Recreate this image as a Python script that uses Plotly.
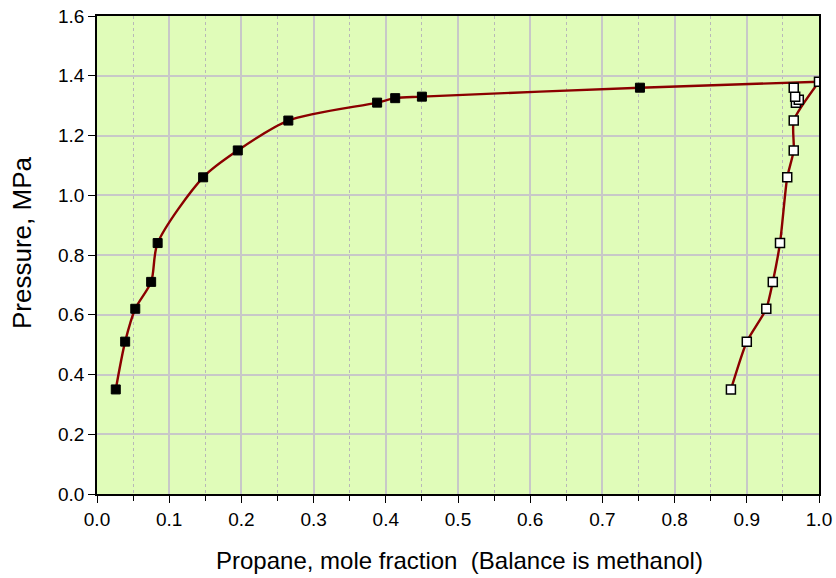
import plotly.graph_objects as go

# Liquid (filled squares)
liq_x = [0.026, 0.039, 0.053, 0.075, 0.084, 0.147, 0.195, 0.265, 0.388, 0.413, 0.450, 0.752]
liq_p = [0.35, 0.51, 0.62, 0.71, 0.84, 1.06, 1.15, 1.25, 1.31, 1.325, 1.33, 1.36]
# Vapor (open squares)
vap_x = [0.878, 0.900, 0.927, 0.936, 0.946, 0.956, 0.965, 0.965, 0.968, 0.972, 0.967, 0.965]
vap_p = [0.35, 0.51, 0.62, 0.71, 0.84, 1.06, 1.15, 1.25, 1.31, 1.32, 1.33, 1.36]
# Pure propane
pure_x = [1.0]
pure_p = [1.38]

x_title = "Propane, mole fraction  (Balance is methanol)"
y_title = "Pressure, MPa"

line_col = "#8b0000"
fig = go.Figure()
fig.add_trace(go.Scatter(x=liq_x + pure_x, y=liq_p + pure_p, mode="lines",
                         line=dict(color=line_col, width=2.4, shape="spline", smoothing=0.8),
                         hoverinfo="skip"))
fig.add_trace(go.Scatter(x=vap_x[:8] + pure_x, y=vap_p[:8] + pure_p, mode="lines",
                         line=dict(color=line_col, width=2.4, shape="spline", smoothing=0.6),
                         hoverinfo="skip"))
fig.add_trace(go.Scatter(x=liq_x, y=liq_p, mode="markers",
                         marker=dict(symbol="square", size=9, color="black",
                                     line=dict(color="black", width=1))))
fig.add_trace(go.Scatter(x=vap_x + pure_x, y=vap_p + pure_p, mode="markers",
                         marker=dict(symbol="square", size=9, color="white",
                                     line=dict(color="black", width=1.5))))

font = "Liberation Sans, Arial, sans-serif"
L, R, T, B = 97, 17, 16, 84
W, H = 836, 578
pw, ph = W - L - R, H - T - B
fig.update_layout(
    width=W, height=H,
    margin=dict(l=L, r=R, t=T, b=B),
    paper_bgcolor="white", plot_bgcolor="#e0fcb9",
    showlegend=False,
    font=dict(family=font, size=19, color="black"),
    xaxis=dict(range=[0, 1.0], dtick=0.1, tick0=0, tickformat=".1f", automargin=False,
               showline=True, linecolor="black", linewidth=1.5, mirror=True,
               ticks="outside", ticklen=7, tickcolor="black",
               showgrid=True, gridcolor="#c8c8c8", gridwidth=1.5, zeroline=False,
               minor=dict(dtick=0.05, tick0=0, showgrid=True, gridcolor="#b8b8b8",
                          griddash="dot", gridwidth=1, ticks="outside", ticklen=5,
                          tickcolor="black")),
    yaxis=dict(range=[0, 1.6], dtick=0.2, tick0=0, tickformat=".1f", automargin=False,
               showline=True, linecolor="black", linewidth=1.5, mirror=True,
               ticks="outside", ticklen=7, tickcolor="black",
               showgrid=True, gridcolor="#c8c8c8", gridwidth=1.5, zeroline=False),
    annotations=[
        dict(text=x_title, xref="paper", yref="paper", showarrow=False,
             x=(459 - L) / pw, y=-(560 - (H - B)) / ph, xanchor="center", yanchor="middle",
             font=dict(size=24)),
        dict(text=y_title, xref="paper", yref="paper", showarrow=False, textangle=-90,
             x=-(L - 22) / pw, y=((H - B) - 243) / ph, xanchor="center", yanchor="middle",
             font=dict(size=26)),
    ],
)
fig.write_html("out.html")
